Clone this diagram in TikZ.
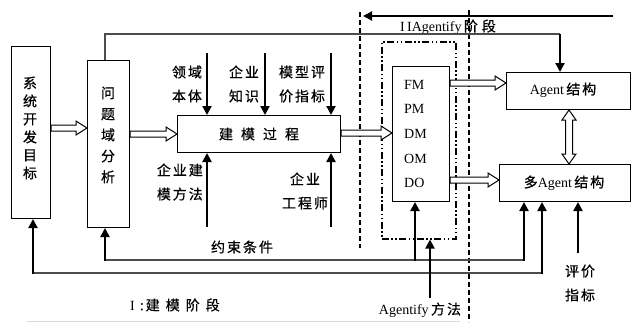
\documentclass[tikz,border=0pt]{standalone}
\usepackage{fontspec}
\setmainfont{Liberation Serif}
\newfontfamily\cjk[LetterSpace=14,FakeBold=0.6]{Noto Sans CJK SC}
\usetikzlibrary{arrows.meta,calc}
\newcommand\hollowR[2]{%
  \draw[hollowst] let \p1=#1, \p2=#2 in
    (\x1,\y1+3pt) -- (\x2-11pt,\y1+3pt) -- (\x2-11pt,\y1+7pt) -- (\x2,\y1)
    -- (\x2-11pt,\y1-7pt) -- (\x2-11pt,\y1-3pt) -- (\x1,\y1-3pt) -- cycle;}
\newcommand\hollowUD[2]{%
  \draw[hollowst] let \p1=#1, \p2=#2 in
    (\x1,\y1) -- (\x1+7pt,\y1-10pt) -- (\x1+3.5pt,\y1-10pt) -- (\x1+3.5pt,\y2+10pt)
    -- (\x1+7pt,\y2+10pt) -- (\x1,\y2) -- (\x1-7pt,\y2+10pt) -- (\x1-3.5pt,\y2+10pt)
    -- (\x1-3.5pt,\y1-10pt) -- (\x1-7pt,\y1-10pt) -- cycle;}
\begin{document}
\begin{tikzpicture}[x=1pt,y=-1pt,
  box/.style={draw, line width=1pt, inner sep=0pt, anchor=north west},
  arr/.style={line width=2pt, -{Triangle[width=9pt,length=9pt]}},
  conn/.style={draw=black!70, line width=1.4pt},
  hollowst/.style={draw, line width=1pt, fill=white},
  lab/.style={font=\cjk\fontsize{14}{24}\selectfont, align=center, inner sep=0pt},
  lat/.style={font=\fontsize{14}{24.6}\selectfont, inner sep=0pt},
  dashln/.style={line width=1.5pt, dash pattern=on 5pt off 3pt},
  ddbox/.style={draw, line width=1.5pt, dash pattern=on 7pt off 2.5pt on 1.5pt off 2.5pt on 1.5pt off 2.5pt}
]
\useasboundingbox (0,0) rectangle (631,322);

% dashed separators
\draw[dashln] (360,12) -- (360,248);
\draw[dashln] (469,10) -- (469,322);
\draw[black!15, line width=1pt] (27,321) -- (460,321);

% boxes
\node[box, minimum width=39, minimum height=172] (goal) at (11,46) {};
\node[lab, font=\cjk\fontsize{14}{18}\selectfont] at (30,128) {系\\统\\开\\发\\目\\标};
\node[box, minimum width=42, minimum height=167] (prob) at (87,60) {};
\node[lab, font=\cjk\fontsize{14}{21}\selectfont] at (108,135) {问\\题\\域\\分\\析};
\node[box, minimum width=163, minimum height=37] (model) at (177,115) {};
\node[lab] at (model.center) {建\hspace{8pt}模\hspace{8pt}过\hspace{8pt}程};
\node[draw, ddbox, minimum width=74, minimum height=197, anchor=north west, inner sep=0pt] (dd) at (381,41) {};
\node[box, minimum width=57, minimum height=135] (fm) at (392,66) {};
\node[lat, align=left, anchor=west] at (404,134) {FM\\PM\\DM\\OM\\DO};
\node[box, minimum width=124, minimum height=37] (agent) at (506,72) {};
\node[inner sep=0pt] at (563,90) {\fontsize{14}{16}\selectfont Agent\,{\cjk 结构}};
\node[box, minimum width=131, minimum height=37] (multi) at (499,164) {};
\node[inner sep=0pt] at (564,183) {\fontsize{14}{16}\selectfont {\cjk 多}Agent\,{\cjk 结构}};

% labels
\node[lab] at (187,84) {领域\\本体};
\node[lab] at (244,84) {企业\\知识};
\node[lab] at (302,84) {模型评\\价指标};
\node[lab, align=right, anchor=east] at (203,182) {企业建\\模方法};
\node[lab] at (305,191) {企业\\工程师};
\node[lab] at (242,247) {约束条件};
\node[lab] at (175,305) {{\rmfamily I}\hspace{5pt}:建\hspace{6pt}模\hspace{6pt}阶\hspace{6pt}段};
\node[lab] at (580,283) {评价\\指标};
\node[inner sep=0pt] at (420,310) {\fontsize{14}{16}\selectfont Agentify\,{\cjk 方法}};
\node[inner sep=0pt] at (448,27) {\fontsize{14}{16}\selectfont I\,IAgentify\,{\cjk 阶\hspace{4pt}段}};

% hollow arrows
\hollowR{(goal.east |- 0,128)}{(prob.west |- 0,128)}
\hollowR{(prob.east |- 0,134)}{(model.west |- 0,134)}
\hollowR{(model.east |- 0,133)}{(fm.west |- 0,133)}
\hollowR{(fm.east |- 0,83)}{(agent.west |- 0,83)}
\hollowR{(fm.east |- 0,180)}{(multi.west |- 0,180)}
\hollowUD{(agent.south -| 569,0)}{(multi.north -| 569,0)}

% arrows into model
\draw[arr] (207,53) -- (model.north -| 207,0);
\draw[arr] (265,53) -- (model.north -| 265,0);
\draw[arr] (331,53) -- (model.north -| 331,0);
\draw[arr] (207,227) -- (model.south -| 207,0);
\draw[arr] (331,227) -- (model.south -| 331,0);

% top connectors
\draw[arr] (613,16) -- (363,16);
\draw[conn] (prob.north -| 105,0) -- (105,34) -- (560,34);
\draw[arr] (560,34) -- (agent.north -| 560,0);

% bottom connectors
\draw[conn] (105,260) -- (524,260);
\draw[arr] (105,260.7) -- (prob.south -| 105,0);
\draw[arr] (524,260.7) -- (multi.south -| 524,0);
\draw[arr] (415,260.7) -- (fm.south -| 415,0);
\draw[conn] (33,273) -- (542,273);
\draw[arr] (33,273.7) -- (goal.south -| 33,0);
\draw[arr] (542,273.7) -- (multi.south -| 542,0);
\draw[arr] (578,253) -- (multi.south -| 578,0);
\draw[arr] (430,298) -- (dd.south -| 430,0);
\end{tikzpicture}
\end{document}
